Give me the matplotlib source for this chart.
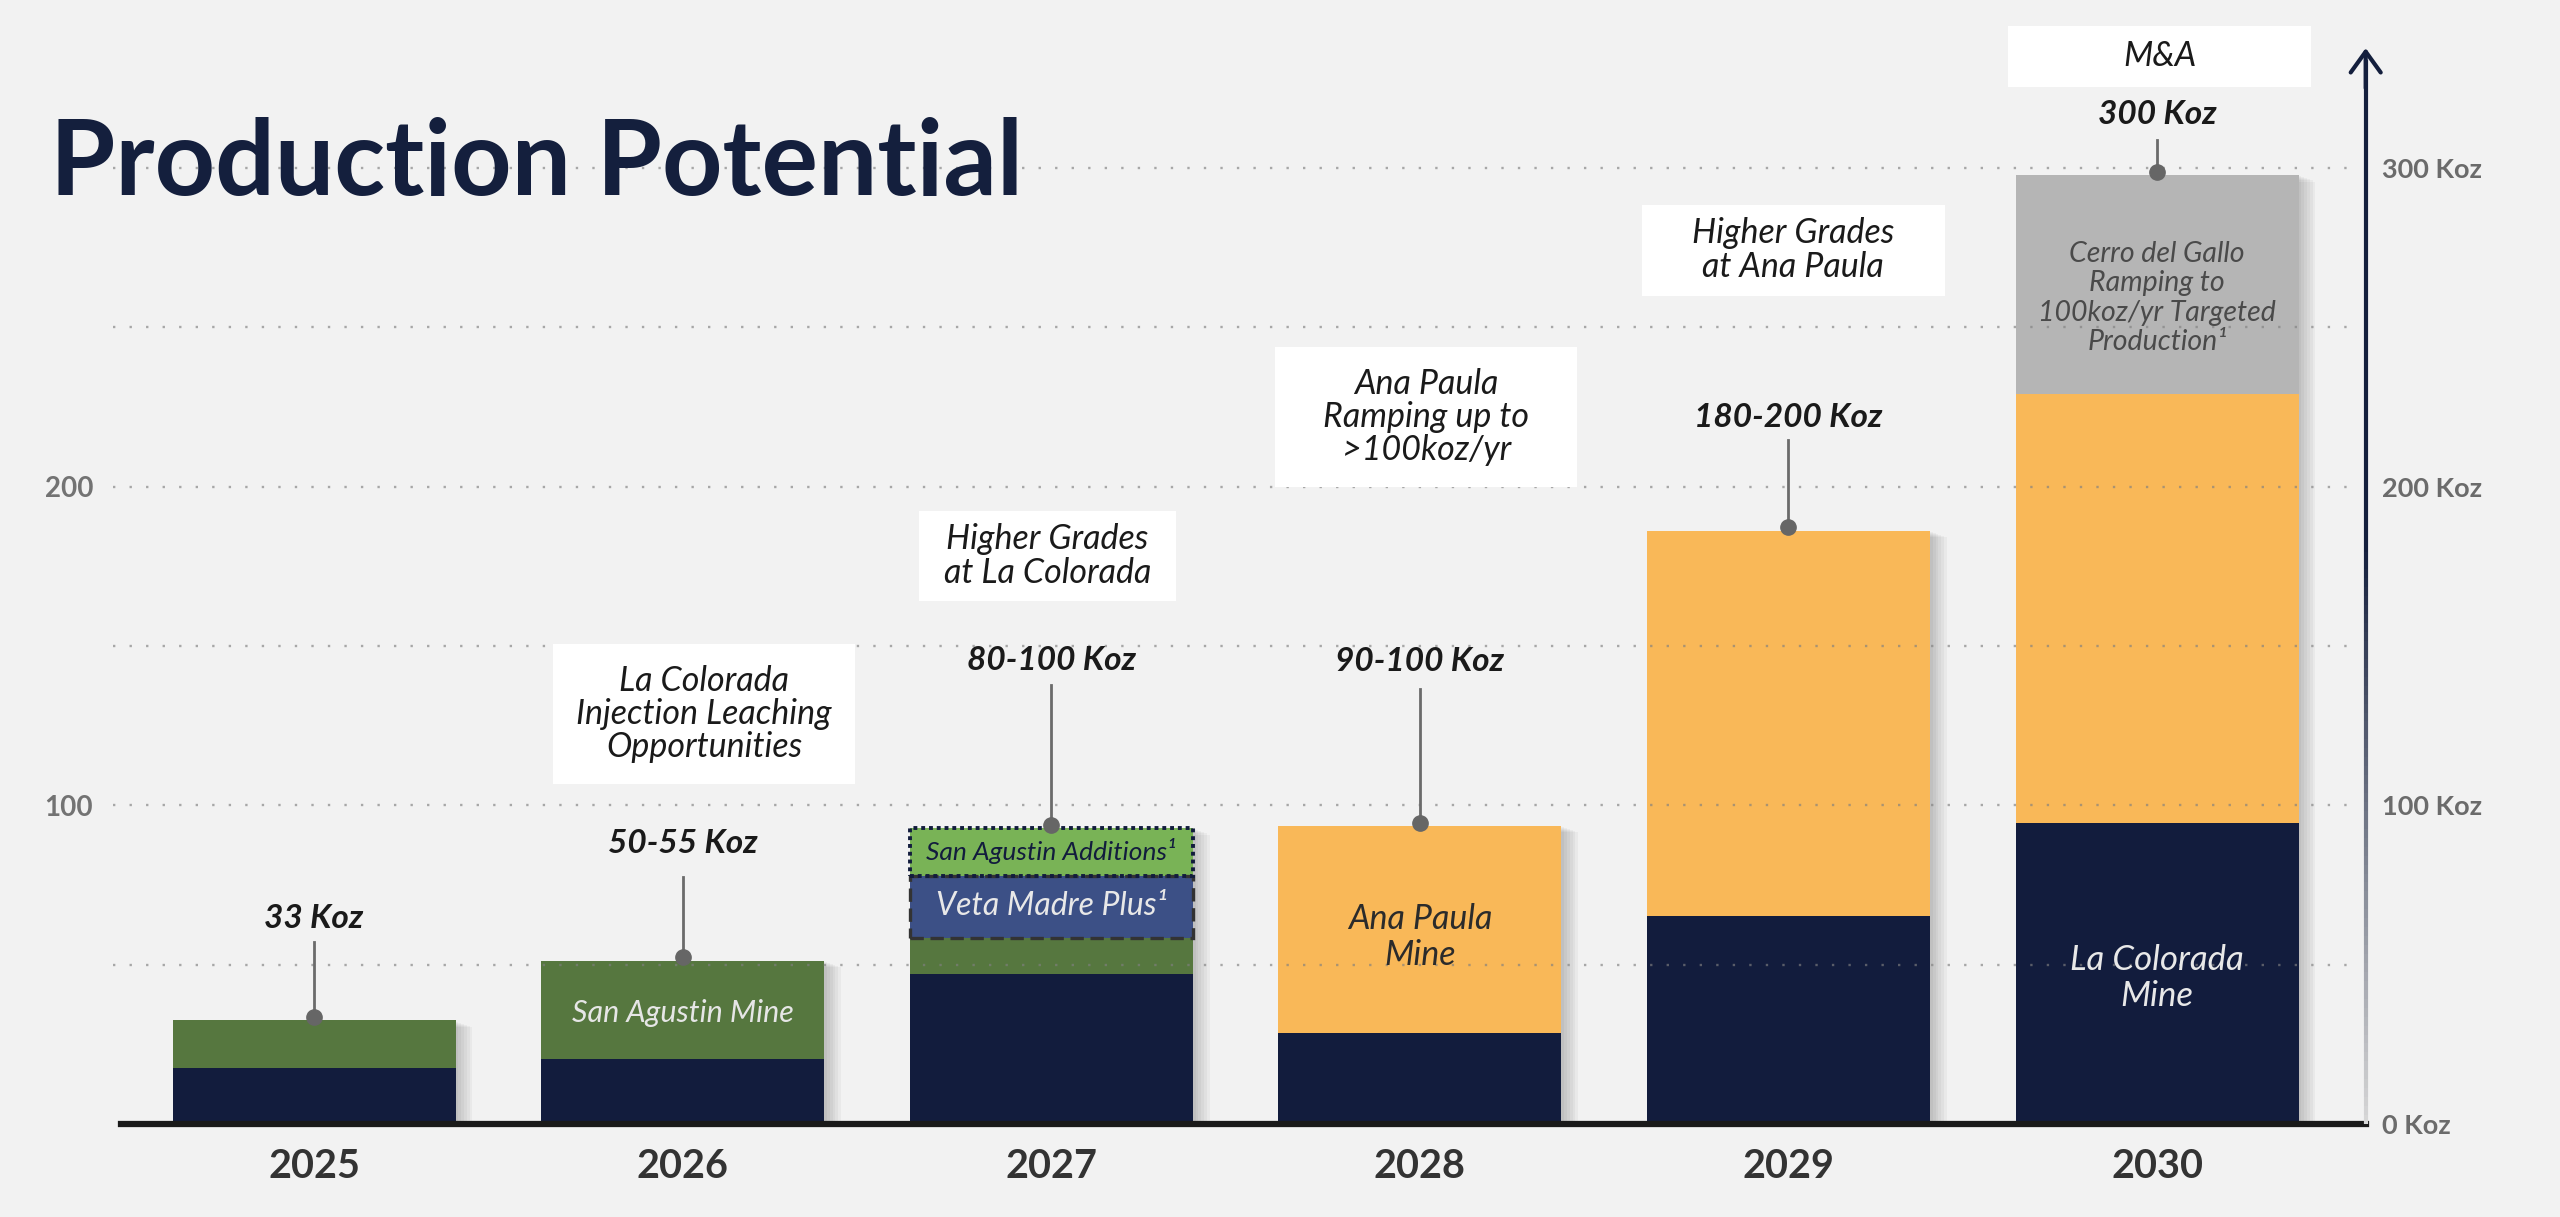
import numpy as np
import matplotlib.pyplot as plt
import matplotlib.patheffects as pe
from matplotlib.patches import Rectangle
from matplotlib.collections import LineCollection
from matplotlib.colors import to_rgb

plt.rcParams['font.family'] = ['Lato', 'DejaVu Sans']

# data (Koz)
years = ['2025', '2026', '2027', '2028', '2029', '2030']
la_colorada = [17.5, 20.3, 47.1, 28.7, 65.3, 94.5]
san_agustin = [15.0, 31.0, 11.4, 0, 0, 0]
veta_madre_plus = [0, 0, 19.4, 0, 0, 0]
san_agustin_additions = [0, 0, 15.0, 0, 0, 0]
ana_paula = [0, 0, 0, 64.9, 120.9, 134.5]
cerro_del_gallo = [0, 0, 0, 0, 0, 68.8]
total_labels = ['33 Koz', '50-55 Koz', '80-100 Koz', '90-100 Koz', '180-200 Koz', '300 Koz']
left_ticks = [100, 200]
right_ticks = [0, 100, 200, 300]
right_tick_labels = ['0 Koz', '100 Koz', '200 Koz', '300 Koz']
grid_levels = [50, 100, 150, 200, 250, 300]

# layout of the call-outs (in Koz)
label_y = [64.4, 87.9, 145.3, 145.0, 221.8, 316.9]
stem_top = [57.1, 77.5, 137.9, 136.6, 214.6, 308.8]

NAVY = '#121c3d'
GREEN = '#56773f'
LIGHT_GREEN = '#79b356'
BLUE = '#3c5086'
ORANGE = '#f9b858'
GREY = '#b5b5b5'
BG = '#f2f2f2'
TXT = '#1a1a1a'

fig = plt.figure(figsize=(25.6, 12.17), dpi=100, facecolor=BG)
ax = fig.add_axes([121 / 2560, 1 - 1124 / 1217, (2365.7 - 121) / 2560, (1124 - 72.3) / 1217])
ax.set_facecolor('none')
ax.set_xlim(-0.524, 5.566)
ax.set_ylim(0, 330)
for s in ax.spines.values():
    s.set_visible(False)

x = np.arange(len(years))
w = 0.768

series = [
    (la_colorada, NAVY),
    (san_agustin, GREEN),
    (veta_madre_plus, BLUE),
    (san_agustin_additions, LIGHT_GREEN),
    (ana_paula, ORANGE),
    (cerro_del_gallo, GREY),
]
totals = np.sum([s for s, _ in series], axis=0)

# one bar per year just for the (soft) drop shadow
shadow = [pe.SimplePatchShadow(offset=(k, -k * 0.4), shadow_rgbFace='black', alpha=0.035)
          for k in range(2, 13, 2)] + [pe.Normal()]
ax.bar(x, totals, w, color=NAVY, linewidth=0, zorder=1, path_effects=shadow)

bottom = np.zeros(len(years))
bottoms = []
for vals, col in series:
    bottoms.append(bottom.copy())
    ax.bar(x, vals, w, bottom=bottom, color=col, linewidth=0, zorder=2)
    bottom = bottom + np.array(vals)

# dashed / dotted outlines on the 2027 upside pieces
for i in range(len(years)):
    if veta_madre_plus[i] > 0:
        ax.bar(x[i], veta_madre_plus[i], w, bottom=bottoms[2][i], fill=False,
               edgecolor='#333333', linewidth=2.4, linestyle=(0, (4, 2)), zorder=3)
    if san_agustin_additions[i] > 0:
        ax.bar(x[i], san_agustin_additions[i], w, bottom=bottoms[3][i], fill=False,
               edgecolor=NAVY, linewidth=2.8, linestyle=(0, (1, 1)), zorder=3)

# dotted grid
ax.hlines(grid_levels, -0.545, 5.52, colors='#808080', linestyles=[(0, (1, 6))],
          linewidth=1.7, alpha=0.65, zorder=4, clip_on=False)

# base line
ax.axhline(0, color=TXT, linewidth=4.5, zorder=6, clip_on=False)

# total call-outs
for i in range(len(years)):
    ax.plot([x[i], x[i]], [totals[i], stem_top[i]], color='#6b6b6b', linewidth=2, zorder=7)
    ax.plot(x[i], totals[i] + 1, 'o', ms=11, color='#666666', zorder=8)
    ax.text(x[i], label_y[i], total_labels[i], ha='center', va='center', fontsize=24,
            fontweight='bold', fontstyle='italic', color=TXT, zorder=8)

# white note boxes
notes = [
    ('La Colorada\nInjection Leaching\nOpportunities', 1.058, 128.6, 0.821, 43.9),
    ('Higher Grades\nat La Colorada', 1.99, 178.2, 0.697, 28.2),
    ('Ana Paula\nRamping up to\n>100koz/yr', 3.017, 221.9, 0.82, 43.9),
    ('Higher Grades\nat Ana Paula', 4.013, 274.2, 0.823, 28.5),
    ('M&A', 5.007, 335.0, 0.822, 19.1),
]
for txt, cx, cy, bw, bh in notes:
    ax.add_patch(Rectangle((cx - bw / 2, cy - bh / 2), bw, bh, facecolor='white',
                           linewidth=0, zorder=5, clip_on=False))
    ax.text(cx, cy, txt, ha='center', va='center', fontsize=24.5, fontstyle='italic',
            color=TXT, linespacing=1.05, zorder=6, clip_on=False)

# names inside the bars
inner = [
    ('San Agustin Mine', 1, 34.8, '#e6e6e6', 22),
    ('San Agustin Additions\u00b9', 2, 85.8, NAVY, 19),
    ('Veta Madre Plus\u00b9', 2, 68.4, '#e8e8e8', 23),
    ('Ana Paula\nMine', 3, 58.7, '#2b2b2b', 24.5),
    ('La Colorada\nMine', 5, 45.8, '#e8e8e8', 25),
    ('Cerro del Gallo\nRamping to\n100koz/yr Targeted\nProduction\u00b9', 5, 259.2, '#4a4a4a', 20.5),
]
for txt, xi, yi, col, fs in inner:
    ax.text(xi, yi, txt, ha='center', va='center', fontsize=fs, fontstyle='italic',
            color=col, linespacing=1.15, zorder=6)

# axes labels
ax.set_xticks(x, years)
ax.tick_params(axis='x', length=0, pad=17, labelsize=28.5, labelcolor='#333333')
ax.set_yticks(left_ticks, [str(v) for v in left_ticks])
ax.tick_params(axis='y', length=0, pad=20, labelsize=20, labelcolor='#737373')
for lbl in ax.get_xticklabels() + ax.get_yticklabels():
    lbl.set_fontweight('bold')

ax2 = ax.twinx()
ax2.set_ylim(ax.get_ylim())
ax2.set_yticks(right_ticks, right_tick_labels)
ax2.tick_params(axis='y', length=0, pad=12, labelsize=19.5, labelcolor='#6b6b6b')
for lbl in ax2.get_yticklabels():
    lbl.set_fontweight('bold')
for s in ax2.spines.values():
    s.set_visible(False)

# right arrow, fading towards the bottom
xr = ax.get_xlim()[1]
ys = np.linspace(0, 334, 120)
segs = [[(xr, ys[k]), (xr, ys[k + 1])] for k in range(len(ys) - 1)]
c0, c1 = np.array(to_rgb('#d6d6d6')), np.array(to_rgb('#141f3d'))
t = np.clip(ys[:-1] / 180, 0, 1)[:, None]
lc = LineCollection(segs, colors=c0 * (1 - t) + c1 * t, linewidths=3, zorder=6, clip_on=False)
ax.add_collection(lc)
ax.annotate('', xy=(xr, 337.6), xytext=(xr, 325),
            arrowprops=dict(arrowstyle='->,head_length=0.5,head_width=0.36', lw=3,
                            color='#141f3d', mutation_scale=30, shrinkA=0, shrinkB=0),
            annotation_clip=False, zorder=7)

fig.text(50 / 2560, 1 - 195 / 1217, 'Production Potential', fontsize=76, fontweight='bold',
         color='#141f3d', va='baseline', ha='left')

fig.savefig('out.png', dpi=100, facecolor=BG)
